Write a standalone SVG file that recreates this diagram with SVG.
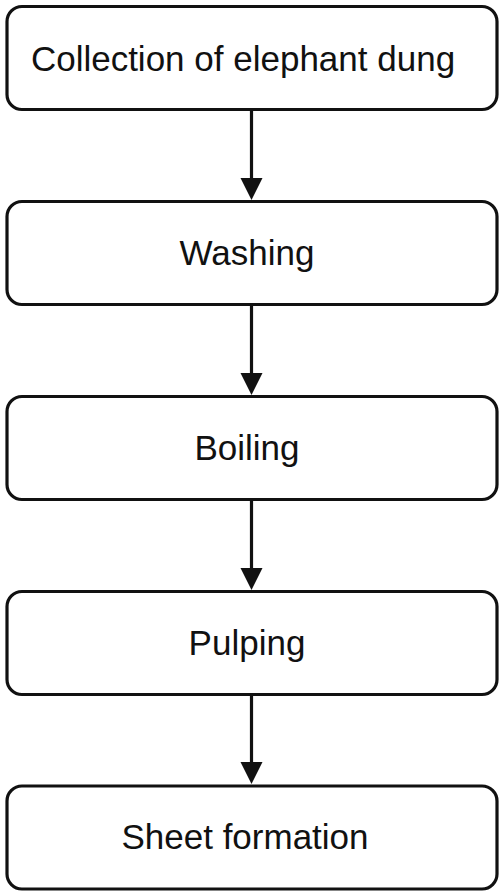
<svg xmlns="http://www.w3.org/2000/svg" width="503" height="896" viewBox="0 0 503 896">
<style>
.box{fill:#fff;stroke:#111;stroke-width:3.2}
.lbl{font-family:"Liberation Sans",Arial,sans-serif;font-size:35px;fill:#111;text-anchor:middle}
.edge{stroke:#111;stroke-width:3.2;fill:none}
.head{fill:#111}
</style>
<rect width="503" height="896" fill="#fff"/>
<g id="connectors">
<line class="edge" x1="251.5" y1="110" x2="251.5" y2="185"/>
<polygon class="head" points="240.5,178 262.5,178 251.5,200"/>
<line class="edge" x1="251.5" y1="305" x2="251.5" y2="380"/>
<polygon class="head" points="240.5,373 262.5,373 251.5,395"/>
<line class="edge" x1="251.5" y1="500" x2="251.5" y2="575"/>
<polygon class="head" points="240.5,568 262.5,568 251.5,590"/>
<line class="edge" x1="251.5" y1="695" x2="251.5" y2="770"/>
<polygon class="head" points="240.5,762 262.5,762 251.5,784"/>
</g>
<g id="n1"><rect class="box" x="7" y="6.5" width="490" height="103" rx="15"/><text class="lbl" x="243" y="71">Collection of elephant dung</text></g>
<g id="n2"><rect class="box" x="7" y="201.5" width="490" height="103" rx="15"/><text class="lbl" x="247" y="265">Washing</text></g>
<g id="n3"><rect class="box" x="7" y="396.5" width="490" height="103" rx="15"/><text class="lbl" x="247" y="460">Boiling</text></g>
<g id="n4"><rect class="box" x="7" y="591.5" width="490" height="103" rx="15"/><text class="lbl" x="247" y="655">Pulping</text></g>
<g id="n5"><rect class="box" x="7" y="786" width="490" height="103" rx="15"/><text class="lbl" x="245" y="849">Sheet formation</text></g>
</svg>
